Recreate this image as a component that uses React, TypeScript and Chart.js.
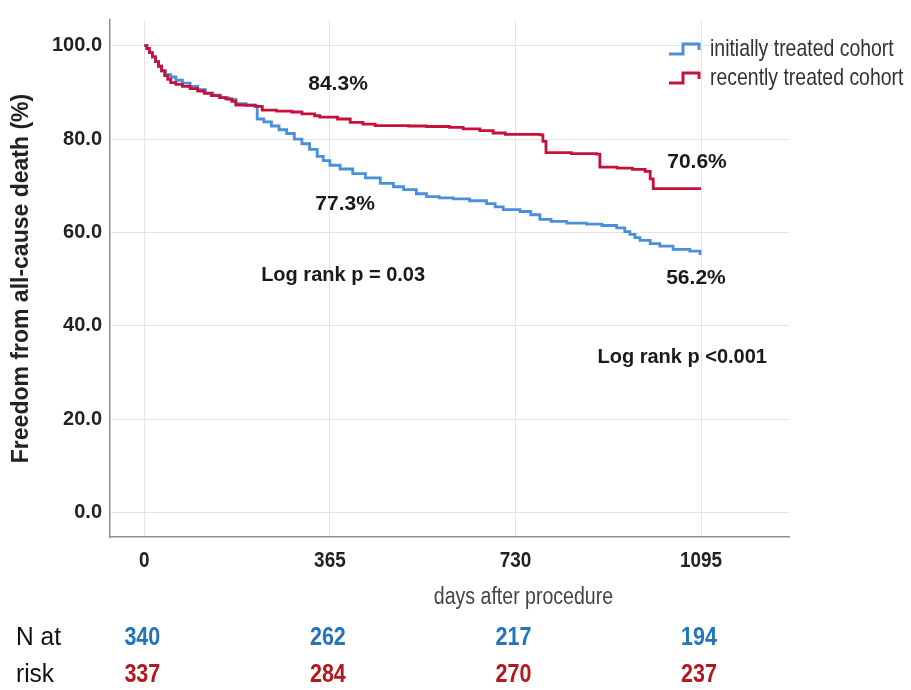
import React, { useEffect, useRef } from "react";
import { Chart, registerables } from "chart.js";

Chart.register(...registerables);

// ---------- data ----------
const X_TICKS = [0, 365, 730, 1095];
const Y_TICKS = [0, 20, 40, 60, 80, 100];

const SERIES_LABELS = ["initially treated cohort", "recently treated cohort"];

// initially treated cohort (days, survival %)
const INITIAL_DAYS = [0, 5, 10, 16, 22, 28, 34, 42, 52, 62, 75, 90, 105, 120, 135, 150, 165, 180, 200, 218, 222, 235, 250, 265, 280, 295, 310, 325, 340, 352, 365, 385, 410, 435, 464, 490, 510, 535, 555, 580, 608, 640, 673, 690, 706, 739, 760, 778, 800, 831, 870, 900, 929, 945, 955, 965, 975, 995, 1014, 1040, 1073, 1093];
const INITIAL_SURV = [100, 99.4, 98.5, 97.6, 96.6, 95.6, 94.6, 93.8, 93.3, 92.6, 92.0, 91.3, 90.6, 89.9, 89.4, 88.9, 88.5, 87.6, 87.3, 87.1, 84.3, 83.7, 82.8, 82.0, 81.2, 80.0, 79.0, 77.8, 76.3, 75.4, 74.4, 73.6, 72.6, 71.7, 70.5, 69.8, 69.2, 68.3, 67.7, 67.4, 67.2, 66.8, 66.2, 65.5, 64.9, 64.5, 63.8, 62.8, 62.4, 62.0, 61.8, 61.5, 61.0, 60.2, 59.6, 58.9, 58.3, 57.6, 57.1, 56.4, 56.0, 55.2];

// recently treated cohort (days, survival %)
const RECENT_DAYS = [0, 5, 10, 16, 22, 28, 34, 40, 46, 52, 62, 75, 90, 105, 118, 132, 148, 160, 172, 180, 200, 218, 232, 260, 290, 310, 335, 345, 380, 405, 430, 454, 520, 555, 600, 627, 660, 686, 710, 778, 784, 790, 840, 890, 896, 930, 960, 985, 995, 1001, 1095];
const RECENT_SURV = [100, 99.4, 98.5, 97.6, 96.6, 95.6, 94.6, 93.6, 92.8, 92.1, 91.7, 91.3, 90.8, 90.3, 89.8, 89.3, 88.9, 88.6, 88.1, 87.3, 87.2, 87.0, 86.2, 86.0, 85.8, 85.4, 85.0, 84.7, 84.3, 83.6, 83.2, 82.9, 82.8, 82.7, 82.5, 82.2, 81.8, 81.3, 81.0, 80.9, 79.5, 77.1, 76.9, 76.8, 74.0, 73.8, 73.5, 73.1, 71.5, 69.4, 69.4];

const AT_RISK_INITIAL = [340, 262, 217, 194];
const AT_RISK_RECENT = [337, 284, 270, 237];
const AT_RISK_LABELS = ["N at", "risk"];

const ANNOTATION_TEXTS = ["84.3%", "77.3%", "70.6%", "56.2%", "Log rank p = 0.03", "Log rank p <0.001"];
const ANNOTATION_DAYS = [381, 395, 1087, 1085, 391, 1058];
const ANNOTATION_VALUES = [91.8, 66.0, 75.0, 50.3, 50.7, 33.2];

const Y_TITLE = "Freedom from all-cause death (%)";
const X_TITLE = "days after procedure";

// ---------- styles ----------
const BLUE = "#4a8fdb";
const RED = "#c8103c";
const BLUE_TEXT = "#2474b9";
const RED_TEXT = "#b3181f";
const SANS = '"Liberation Sans", Arial, sans-serif';

function narrowText(ctx: any, text: string, x: number, y: number, sx: number) {
  ctx.save();
  ctx.translate(x, y);
  ctx.scale(sx, 1);
  ctx.fillText(text, 0, 0);
  ctx.restore();
}

const overlay = {
  id: "kmOverlay",
  afterDraw(chart: any) {
    const ctx = chart.ctx;
    const xs = chart.scales.x;
    const ys = chart.scales.y;
    ctx.save();

    // x tick labels (condensed, taken from the x scale's ticks)
    ctx.fillStyle = "#222";
    ctx.font = `bold 22px ${SANS}`;
    ctx.textAlign = "center";
    ctx.textBaseline = "middle";
    xs.ticks.forEach((t: any) => {
      narrowText(ctx, String(t.value), xs.getPixelForValue(t.value), 561, 0.86);
    });

    // annotations
    ctx.fillStyle = "#1a1a1a";
    ANNOTATION_TEXTS.forEach((t, i) => {
      ctx.font = i < 4 ? `bold 21px ${SANS}` : `bold 20px ${SANS}`;
      ctx.fillText(t, xs.getPixelForValue(ANNOTATION_DAYS[i]), ys.getPixelForValue(ANNOTATION_VALUES[i]));
    });

    // legend
    const colors = [BLUE, RED];
    SERIES_LABELS.forEach((lab, i) => {
      const cy = 49 + i * 29;
      const x0 = 669;
      ctx.strokeStyle = colors[i];
      ctx.lineWidth = 3;
      ctx.beginPath();
      ctx.moveTo(x0, cy + 5);
      ctx.lineTo(x0 + 14, cy + 5);
      ctx.lineTo(x0 + 14, cy - 5);
      ctx.lineTo(x0 + 30, cy - 5);
      ctx.lineTo(x0 + 30, cy + 1);
      ctx.stroke();
      ctx.fillStyle = "#333";
      ctx.font = `24px ${SANS}`;
      ctx.textAlign = "left";
      ctx.textBaseline = "middle";
      narrowText(ctx, lab, 710, cy, 0.81);
    });

    // x title
    ctx.fillStyle = "#444";
    ctx.font = `23px ${SANS}`;
    ctx.textAlign = "center";
    ctx.textBaseline = "middle";
    narrowText(ctx, X_TITLE, xs.getPixelForValue(730) + 8, 598, 0.85);

    // number at risk
    ctx.textBaseline = "middle";
    ctx.textAlign = "left";
    ctx.fillStyle = "#111";
    ctx.font = `25px ${SANS}`;
    narrowText(ctx, AT_RISK_LABELS[0], 16, 638, 0.98);
    narrowText(ctx, AT_RISK_LABELS[1], 16, 675, 0.98);
    ctx.textAlign = "center";
    ctx.font = `bold 25px ${SANS}`;
    X_TICKS.forEach((d, i) => {
      const px = xs.getPixelForValue(d) - 2;
      ctx.fillStyle = BLUE_TEXT;
      narrowText(ctx, String(AT_RISK_INITIAL[i]), px, 638, 0.86);
      ctx.fillStyle = RED_TEXT;
      narrowText(ctx, String(AT_RISK_RECENT[i]), px, 675, 0.86);
    });

    ctx.restore();
  },
};

export default function App() {
  const ref = useRef<HTMLCanvasElement | null>(null);

  useEffect(() => {
    if (!ref.current) return;
    const toPoints = (xs: number[], ys: number[]) => xs.map((x, i) => ({ x, y: ys[i] }));
    const chart = new Chart(ref.current, {
      type: "line",
      data: {
        datasets: [
          {
            label: SERIES_LABELS[0],
            data: toPoints(INITIAL_DAYS, INITIAL_SURV),
            borderColor: BLUE,
            borderWidth: 2.8,
            stepped: "before",
            pointRadius: 0,
            fill: false,
            order: 2,
          },
          {
            label: SERIES_LABELS[1],
            data: toPoints(RECENT_DAYS, RECENT_SURV),
            borderColor: RED,
            borderWidth: 2.8,
            stepped: "before",
            pointRadius: 0,
            fill: false,
            order: 1,
          },
        ],
      },
      options: {
        responsive: false,
        animation: false,
        layout: { padding: { top: 7, right: 122, left: 0, bottom: 0 } },
        plugins: { legend: { display: false }, tooltip: { enabled: false }, title: { display: false } },
        scales: {
          x: {
            type: "linear",
            min: -67.5,
            max: 1268,
            afterBuildTicks: (s: any) => {
              s.ticks = X_TICKS.map((v) => ({ value: v }));
            },
            afterFit: (s: any) => {
              s.height = 153;
            },
            grid: { color: "#e4e4e4", lineWidth: 1, drawTicks: false },
            border: { display: true, color: "#8f8f8f", width: 1.5 },
            ticks: {
              color: "rgba(0,0,0,0)",
              padding: 13,
              font: { family: SANS, size: 19, weight: "bold" },
              callback: (v: any) => String(v),
            },
          },
          y: {
            type: "linear",
            min: -5.2,
            max: 105.5,
            afterBuildTicks: (s: any) => {
              s.ticks = Y_TICKS.map((v) => ({ value: v }));
            },
            afterFit: (s: any) => {
              s.width = 110;
            },
            grid: { color: "#e4e4e4", lineWidth: 1, drawTicks: false },
            border: { display: true, color: "#8f8f8f", width: 1.5 },
            ticks: {
              color: "#222",
              padding: 8,
              font: { family: SANS, size: 20, weight: "bold" },
              callback: (v: any) => Number(v).toFixed(1),
            },
            title: {
              display: true,
              text: Y_TITLE,
              color: "#222",
              font: { family: SANS, size: 23, weight: "bold" },
              padding: { top: 8, bottom: 0 },
            },
          },
        },
      },
      plugins: [overlay],
    });
    return () => chart.destroy();
  }, []);

  return (
    <div style={{ position: "fixed", left: 0, top: 0, width: 911, height: 690, background: "#fff" }}>
      <canvas ref={ref} width={911} height={690} />
    </div>
  );
}
